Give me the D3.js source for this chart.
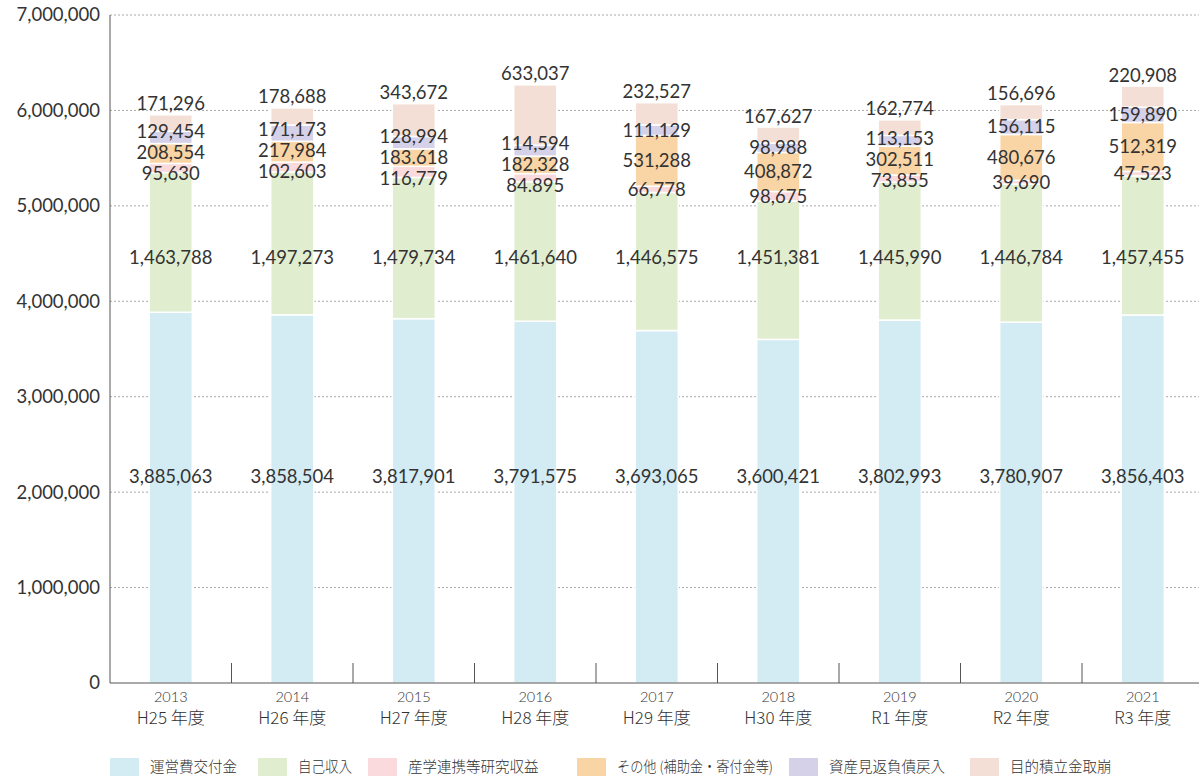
<!DOCTYPE html>
<html>
<head>
<meta charset="utf-8">
<script src="https://cdn.jsdelivr.net/npm/d3@7"></script>
<style>
  body { margin: 0; background: #fff; }
  text { font-family: "Noto Sans CJK JP", "Noto Sans", sans-serif; fill: #333; font-weight: 300; }
  text.num { font-family: "Lato", "Noto Sans", sans-serif; font-weight: 400; }
  text.num.yr { font-weight: 300; }
</style>
</head>
<body>
<script>
const years = ["2013", "2014", "2015", "2016", "2017", "2018", "2019", "2020", "2021"];
const fiscalYears = ["H25 年度", "H26 年度", "H27 年度", "H28 年度", "H29 年度", "H30 年度", "R1 年度", "R2 年度", "R3 年度"];
const seriesNames = ["運営費交付金", "自己収入", "産学連携等研究収益", "その他 (補助金・寄付金等)", "資産見返負債戻入", "目的積立金取崩"];

const unei     = [3885063, 3858504, 3817901, 3791575, 3693065, 3600421, 3802993, 3780907, 3856403];
const jiko     = [1463788, 1497273, 1479734, 1461640, 1446575, 1451381, 1445990, 1446784, 1457455];
const sangaku  = [95630, 102603, 116779, 84895, 66778, 98675, 73855, 39690, 47523];
const sonota   = [208554, 217984, 183618, 182328, 531288, 408872, 302511, 480676, 512319];
const shisan   = [129454, 171173, 128994, 114594, 111129, 98988, 113153, 156115, 159890];
const mokuteki = [171296, 178688, 343672, 633037, 232527, 167627, 162774, 156696, 220908];

const yTicks = [0, 1000000, 2000000, 3000000, 4000000, 5000000, 6000000, 7000000];
// the original prints two labels with a dot instead of a comma
const labelTypos = { "2015|3": "183.618", "2016|2": "84.895" };

const colors = ["#d3ebf3", "#e1edcf", "#fadadc", "#f9d4a4", "#d5d1e9", "#f3dfd5"];

const width = 1199, height = 777;
const margin = { left: 110, top: 15 };
const plotBottom = 683;
const plotRight = 1199;
const slot = 121.5;

const svg = d3.select("body").append("svg")
  .attr("width", width)
  .attr("height", height);

const series = [unei, jiko, sangaku, sonota, shisan, mokuteki];
const rows = years.map((yr, i) => {
  const r = { year: yr };
  seriesNames.forEach((k, j) => r[k] = series[j][i]);
  return r;
});
const stacked = d3.stack().keys(seriesNames)(rows);

const x = d3.scaleBand().domain(years).range([margin.left, margin.left + slot * years.length]).padding(0);
const y = d3.scaleLinear().domain([0, 7000000]).range([plotBottom, margin.top]);
const barW = x.bandwidth() * 0.355;

// grid
svg.append("g").selectAll("line")
  .data(yTicks.filter(d => d > 0))
  .join("line")
  .attr("x1", margin.left).attr("x2", plotRight)
  .attr("y1", d => y(d)).attr("y2", d => y(d))
  .attr("stroke", "#aaa")
  .attr("stroke-dasharray", "2,2");

// y axis
const yAxisG = svg.append("g")
  .attr("transform", `translate(${margin.left},0)`)
  .call(d3.axisLeft(y).tickValues(yTicks).tickFormat(d3.format(",")).tickSize(0).tickPadding(10));
yAxisG.select(".domain").remove();
yAxisG.attr("font-family", null).attr("font-size", null);
yAxisG.selectAll("text").attr("class", "num").style("font-size", "18.5px").attr("fill", "#333");

// bars
svg.append("g").selectAll("g")
  .data(stacked)
  .join("g")
  .attr("fill", (d, i) => colors[i])
  .selectAll("rect")
  .data(d => d)
  .join("rect")
  .attr("x", d => x(d.data.year) + (x.bandwidth() - barW) / 2)
  .attr("width", barW)
  .attr("y", d => y(d[1]))
  .attr("height", d => y(d[0]) - y(d[1]))
  .attr("stroke", "#fff")
  .attr("stroke-width", 1.5);

// axis lines
svg.append("line")
  .attr("x1", margin.left).attr("x2", margin.left)
  .attr("y1", margin.top).attr("y2", plotBottom)
  .attr("stroke", "#555");
svg.append("line")
  .attr("x1", margin.left).attr("x2", plotRight)
  .attr("y1", plotBottom).attr("y2", plotBottom)
  .attr("stroke", "#555");
svg.append("g").selectAll("line")
  .data(years)
  .join("line")
  .attr("x1", d => x(d) + x.bandwidth()).attr("x2", d => x(d) + x.bandwidth())
  .attr("y1", plotBottom - 20).attr("y2", plotBottom)
  .attr("stroke", "#555");

// x labels
const xl = svg.append("g");
xl.selectAll("text.yr")
  .data(years)
  .join("text")
  .attr("class", "num yr")
  .attr("x", d => x(d) + x.bandwidth() / 2)
  .attr("y", 702)
  .attr("text-anchor", "middle")
  .style("font-size", "14.5px")
  .text(d => d);
xl.selectAll("text.fy")
  .data(years)
  .join("text")
  .attr("class", "fy")
  .attr("x", d => x(d) + x.bandwidth() / 2)
  .attr("y", 724)
  .attr("text-anchor", "middle")
  .style("font-size", "17px")
  .text((d, i) => fiscalYears[i]);

// value labels
const fmt = d3.format(",");
const labels = [];
years.forEach((yr, i) => {
  const segs = stacked.map(s => s[i]);
  const cx = x(yr) + x.bandwidth() / 2;
  labels.push({ x: cx, y: y(2160000), t: fmt(unei[i]) });
  labels.push({ x: cx, y: y(4460000), t: fmt(jiko[i]) });
  // small segments: start at centre, then push apart
  const small = [4, 3, 2].map(j => ({
    j, y: (y(segs[j][0]) + y(segs[j][1])) / 2
  }));
  const gap = 21;
  for (let it = 0; it < 100; it++) {
    for (let k = 0; k < small.length - 1; k++) {
      const d = small[k + 1].y - small[k].y;
      if (d < gap) {
        const p = (gap - d) / 2;
        small[k].y -= p;
        small[k + 1].y += p;
      }
    }
  }
  small.forEach(s => {
    const key = yr + "|" + s.j;
    labels.push({ x: cx, y: s.y, t: labelTypos[key] || fmt(series[s.j][i]) });
  });
  labels.push({ x: cx, y: y(segs[5][1]) - 11, t: fmt(mokuteki[i]) });
});

svg.append("g").selectAll("text")
  .data(labels)
  .join("text")
  .attr("class", "num")
  .attr("x", d => d.x)
  .attr("y", d => d.y)
  .attr("dy", "0.35em")
  .attr("text-anchor", "middle")
  .style("font-size", "18.5px")
  .text(d => d.t);

// legend
const legendX = [110, 258, 368, 577, 789, 970];
const lg = svg.append("g").selectAll("g")
  .data(seriesNames)
  .join("g")
  .attr("transform", (d, i) => `translate(${legendX[i]},758)`);
lg.append("rect")
  .attr("width", 29).attr("height", 18)
  .attr("fill", (d, i) => colors[i]);
lg.append("text")
  .attr("x", 40).attr("y", 9)
  .attr("dy", "0.35em")
  .style("font-size", "14.5px")
  .text(d => d)
  .each(function(d, i) {
    // squeeze a label that would run into the next swatch
    const room = (legendX[i + 1] || width) - legendX[i] - 40 - 16;
    if (this.getComputedTextLength() > room) {
      d3.select(this).attr("textLength", room).attr("lengthAdjust", "spacingAndGlyphs");
    }
  });
</script>
</body>
</html>
